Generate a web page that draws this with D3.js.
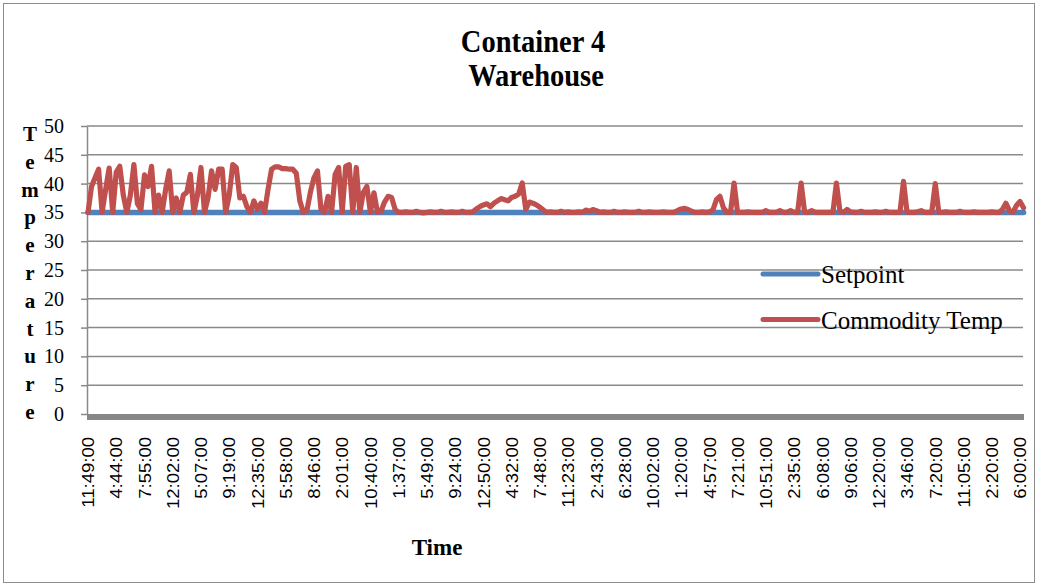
<!DOCTYPE html>
<html>
<head>
<meta charset="utf-8">
<script src="https://cdn.jsdelivr.net/npm/d3@7"></script>
<style>
body { margin: 0; background: #fff; }
svg text { fill: #000; }
</style>
</head>
<body>
<div id="chart"></div>
<script>
var titleLines = ["Container 4", "Warehouse"];
var yTitleLetters = ["T","e","m","p","e","r","a","t","u","r","e"];
var seriesNames = ["Setpoint", "Commodity Temp"];
var seriesColors = ["#4f81bd", "#c0504d"];

var tickLabels = ["11:49:00","4:44:00","7:55:00","12:02:00","5:07:00","9:19:00","12:35:00",
    "5:58:00","8:46:00","2:01:00","10:40:00","1:37:00","5:49:00","9:24:00","12:50:00",
    "4:32:00","7:48:00","11:23:00","2:43:00","6:28:00","10:02:00","1:20:00","4:57:00",
    "7:21:00","10:51:00","2:35:00","6:08:00","9:06:00","12:20:00","3:46:00","7:20:00",
    "11:05:00","2:20:00","6:00:00"];
var labelEvery = 8;

var setpoint = 35;

var commodityTemp = [
    35, 39.5, 41, 42.5, 35, 39, 42.7, 35, 42, 43,
    38, 35, 38, 43.3, 36.5, 35.5, 41.5, 39.5, 43, 35,
    38, 35, 39, 42.2, 35, 37.5, 35, 38, 38.5, 41.6,
    35, 38, 42.8, 35, 37.5, 42.2, 39, 42.5, 42.5, 35,
    38, 43.3, 42.8, 37.5, 37.8, 36, 35, 37, 35.5, 36.6,
    35, 39, 42.5, 42.9, 42.9, 42.6, 42.6, 42.5, 42.5, 41.8,
    37, 35, 35.3, 38.5, 41, 42.2, 35.5, 35, 37.8, 35,
    41.6, 42.8, 35, 43, 43.3, 35, 42.8, 35, 38.5, 39.5,
    35, 38.4, 35, 35.2, 36.8, 37.8, 37.6, 35.5, 35, 35,
    35.1, 35, 35, 35.2, 35, 34.9, 35, 35.1, 35, 35,
    35.2, 35, 35, 35.1, 35, 35, 35.2, 35, 35, 35.1,
    35.6, 36, 36.3, 36.5, 36, 36.6, 37, 37.4, 37.2, 37,
    37.6, 37.8, 38.2, 40.1, 35.5, 36.8, 36.6, 36.3, 35.9, 35.4,
    35, 35.1, 35, 35, 35.2, 35, 35.1, 35, 35, 35.1,
    35, 35.4, 35.2, 35.5, 35.3, 35, 35.1, 35, 35, 35.2,
    35, 35, 35.1, 35, 35, 35, 35.2, 35, 35, 35.1,
    35, 35, 35, 35.1, 35, 35, 35, 35.3, 35.6, 35.7,
    35.5, 35.2, 35, 35, 35.1, 35, 35.1, 35.4, 37.2, 37.8,
    35.8, 35, 35, 40.1, 35, 35, 35, 35.1, 35, 35,
    35, 35, 35.3, 35, 35, 35, 35.3, 35, 35, 35.3,
    35, 35, 40.1, 35, 35, 35.3, 35, 35, 35, 35,
    35, 35, 40.1, 35.2, 35, 35.5, 35.1, 35, 35, 35.2,
    35, 35, 35, 35.1, 35, 35, 35.2, 35, 35, 35,
    35, 40.4, 35, 35, 35, 35.1, 35.3, 35, 35, 35,
    40, 35, 35, 35.1, 35, 35, 35, 35.2, 35, 35,
    35, 35.1, 35, 35, 35, 35, 35.1, 35, 35, 35.5,
    36.6, 35.3, 35, 36.2, 36.9, 35.8
];

var yTicks = [0, 5, 10, 15, 20, 25, 30, 35, 40, 45, 50];

var W = 1038, H = 585;
var plot = {left: 87, right: 1023, top: 126, bottom: 414};

var svg = d3.select("#chart").append("svg")
    .attr("width", W)
    .attr("height", H);

// outer frame
svg.append("rect")
    .attr("x", 3.5).attr("y", 3.5)
    .attr("width", W - 7).attr("height", H - 6)
    .attr("fill", "#fff")
    .attr("stroke", "#8c8c8c")
    .attr("stroke-width", 1);

var idx = d3.range(commodityTemp.length);
var x = d3.scalePoint()
    .domain(idx)
    .range([88, 88 + (commodityTemp.length - 1) * 3.5303]);

var y = d3.scaleLinear()
    .domain([0, 50])
    .range([plot.bottom, plot.top]);

// gridlines
svg.append("g")
    .attr("class", "grid")
    .selectAll("line")
    .data(yTicks.filter(function(d) { return d > 0; }))
    .enter().append("line")
    .attr("x1", plot.left).attr("x2", plot.right)
    .attr("y1", function(d) { return y(d); })
    .attr("y2", function(d) { return y(d); })
    .attr("stroke", "#8a8a8a")
    .attr("stroke-width", 1.5);

// y axis
var yAxis = d3.axisLeft(y)
    .tickValues(yTicks)
    .tickSize(6)
    .tickSizeOuter(0)
    .tickPadding(17);

var gy = svg.append("g")
    .attr("transform", "translate(" + plot.left + ",0)")
    .call(yAxis);
gy.select(".domain").attr("stroke", "#8a8a8a").attr("stroke-width", 1.5);
gy.selectAll(".tick line").attr("stroke", "#8a8a8a").attr("stroke-width", 1.5);
gy.selectAll(".tick text")
    .attr("font-family", "'Liberation Serif', 'Times New Roman', serif")
    .attr("font-size", "20px")
    .attr("fill", "#000");

// x axis labels
var xAxis = d3.axisBottom(x)
    .tickValues(idx.filter(function(i) { return i % labelEvery === 0 && i / labelEvery < tickLabels.length; }))
    .tickFormat(function(i) { return tickLabels[i / labelEvery]; })
    .tickSize(0)
    .tickSizeOuter(0);

var gx = svg.append("g")
    .attr("transform", "translate(0," + plot.bottom + ")")
    .call(xAxis);
gx.select(".domain").remove();
gx.selectAll(".tick text")
    .attr("x", 0).attr("y", 0).attr("dy", "0.36em")
    .attr("text-anchor", "end")
    .attr("transform", "translate(0,23) rotate(-90) scale(1,0.86)")
    .attr("font-family", "'Liberation Sans', Arial, sans-serif")
    .attr("font-size", "18.5px")
    .attr("fill", "#000");

// series lines
var setLine = d3.line()
    .x(function(d) { return x(d); })
    .y(function() { return y(setpoint); });

var tempLine = d3.line()
    .x(function(d, i) { return x(i); })
    .y(function(d) { return y(d); });

svg.append("path")
    .datum(idx)
    .attr("d", setLine)
    .attr("fill", "none")
    .attr("stroke", seriesColors[0])
    .attr("stroke-width", 5.5)
    .attr("stroke-linecap", "round");

svg.append("path")
    .datum(commodityTemp)
    .attr("d", tempLine)
    .attr("fill", "none")
    .attr("stroke", seriesColors[1])
    .attr("stroke-width", 5.2)
    .attr("stroke-linejoin", "round")
    .attr("stroke-linecap", "round");

// thick base line at zero
svg.append("line")
    .attr("x1", plot.left).attr("x2", plot.right + 1)
    .attr("y1", y(0) + 3).attr("y2", y(0) + 3)
    .attr("stroke", "#878787")
    .attr("stroke-width", 6);

// title
svg.append("g").selectAll("text")
    .data(titleLines)
    .enter().append("text")
    .attr("transform", function(d, i) { return "translate(" + (533 + i * 3) + "," + (52 + i * 34) + ") scale(0.92,1)"; })
    .attr("text-anchor", "middle")
    .attr("font-family", "'Liberation Serif', 'Times New Roman', serif")
    .attr("font-weight", "bold")
    .attr("font-size", "31px")
    .text(function(d) { return d; });

// y title, stacked letters
svg.append("g").selectAll("text")
    .data(yTitleLetters)
    .enter().append("text")
    .attr("x", 30)
    .attr("y", function(d, i) { return 141 + i * 27.8; })
    .attr("text-anchor", "middle")
    .attr("font-family", "'Liberation Serif', 'Times New Roman', serif")
    .attr("font-weight", "bold")
    .attr("font-size", "21px")
    .text(function(d) { return d; });

// x title
svg.append("text")
    .attr("x", 437).attr("y", 555)
    .attr("text-anchor", "middle")
    .attr("font-family", "'Liberation Serif', 'Times New Roman', serif")
    .attr("font-weight", "bold")
    .attr("font-size", "23px")
    .text("Time");

// legend
var legend = svg.append("g").selectAll("g")
    .data(seriesNames)
    .enter().append("g")
    .attr("transform", function(d, i) { return "translate(763," + (274 + i * 45.5) + ")"; });
legend.append("line")
    .attr("x1", 0).attr("x2", 55)
    .attr("stroke", function(d, i) { return seriesColors[i]; })
    .attr("stroke-width", 5)
    .attr("stroke-linecap", "round");
legend.append("text")
    .attr("x", 58).attr("y", 9)
    .attr("font-family", "'Liberation Serif', 'Times New Roman', serif")
    .attr("font-size", "25px")
    .text(function(d) { return d; });
</script>
</body>
</html>
